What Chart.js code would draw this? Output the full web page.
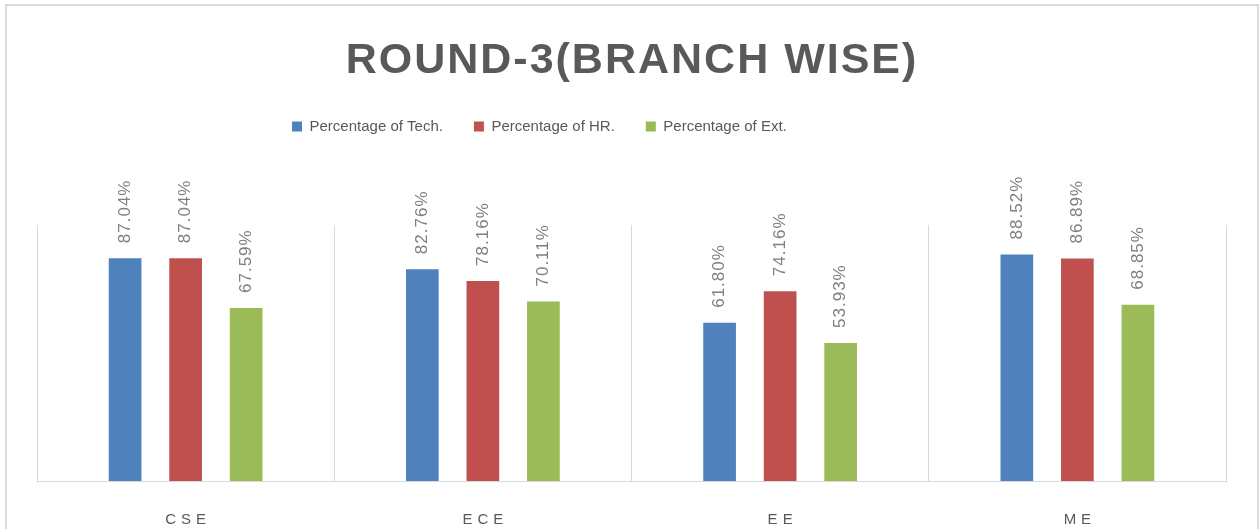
<!DOCTYPE html>
<html>
<head>
<meta charset="utf-8">
<script src="https://cdn.jsdelivr.net/npm/chart.js@4.4.1/dist/chart.umd.min.js"></script>
<style>
  html, body { margin: 0; padding: 0; background: #ffffff; }
  #marco { position: absolute; left: 5px; top: 4px; width: 1250px; height: 540px; border: 2px solid #d9d9d9; }
  #grafica { position: absolute; left: 0; top: 0; }
</style>
</head>
<body>
<div id="marco"></div>
<canvas id="grafica" width="1259" height="529"></canvas>
<script>
// datos
const tituloTexto = 'ROUND-3(BRANCH WISE)';
const ramas = ['CSE', 'ECE', 'EE', 'ME'];
const nombres = ['Percentage of Tech.', 'Percentage of HR.', 'Percentage of Ext.'];
const tech = [87.04, 82.76, 61.80, 88.52];
const hr = [87.04, 78.16, 74.16, 86.89];
const ext = [67.59, 70.11, 53.93, 68.85];
const colores = ['#4f81bd', '#c0504d', '#9bbb59'];

const series = [tech, hr, ext];

const datasets = series.map((valores, i) => ({
  label: nombres[i],
  data: valores,
  backgroundColor: colores[i],
  borderWidth: 0,
  categoryPercentage: 0.611,
  barPercentage: 0.54
}));

// titulo, etiquetas de barras y de categorias con espaciado de letras
const extras = {
  id: 'extras',
  afterLayout(chart) {
    // mover la leyenda un poco a la izquierda como en el original
    const lg = chart.legend;
    const pad = lg.options.labels.padding;
    lg.right = 2 * 292 - lg.left - pad + lg.lineWidths[0];
  },
  afterDraw(chart) {
    const ctx = chart.ctx;
    const xs = chart.scales.x;

    ctx.save();
    ctx.fillStyle = '#595959';
    ctx.font = 'bold 43px "Liberation Sans", Arial, sans-serif';
    ctx.letterSpacing = '2px';
    ctx.textAlign = 'center';
    ctx.textBaseline = 'alphabetic';
    ctx.fillText(tituloTexto, 632, 73);
    ctx.restore();

    ctx.save();
    ctx.fillStyle = '#595959';
    ctx.font = '15px "Liberation Sans", Arial, sans-serif';
    ctx.letterSpacing = '5px';
    ctx.textAlign = 'center';
    ctx.textBaseline = 'alphabetic';
    ramas.forEach((r, i) => {
      ctx.fillText(r, xs.getPixelForValue(i) + 2.5, 524);
    });
    ctx.restore();

    ctx.save();
    ctx.fillStyle = '#7f7f7f';
    ctx.font = '17px "Liberation Sans", Arial, sans-serif';
    ctx.letterSpacing = '1px';
    ctx.textAlign = 'left';
    ctx.textBaseline = 'middle';
    chart.data.datasets.forEach((ds, d) => {
      const meta = chart.getDatasetMeta(d);
      meta.data.forEach((bar, i) => {
        ctx.save();
        ctx.translate(bar.x, bar.y - 15);
        ctx.rotate(-Math.PI / 2);
        ctx.fillText(ds.data[i].toFixed(2) + '%', 0, 0);
        ctx.restore();
      });
    });
    ctx.restore();
  }
};

const grafica = new Chart(document.getElementById('grafica'), {
  type: 'bar',
  data: {
    labels: ramas,
    datasets: datasets
  },
  options: {
    responsive: false,
    animation: false,
    layout: {
      padding: { top: 88, left: 37, right: 33, bottom: 48 }
    },
    scales: {
      x: {
        grid: { display: true, color: '#d9d9d9', lineWidth: 1, drawTicks: false, offset: true },
        border: { display: true, color: '#d9d9d9', width: 1 },
        ticks: { display: false }
      },
      y: {
        display: false,
        min: 0,
        max: 100
      }
    },
    plugins: {
      legend: {
        display: true,
        position: 'top',
        labels: {
          boxWidth: 10,
          boxHeight: 10,
          padding: 31,
          color: '#595959',
          font: { family: '"Liberation Sans", Arial, sans-serif', size: 15 }
        }
      },
      subtitle: {
        display: true,
        text: '',
        weight: 500,
        font: { size: 10 },
        padding: { top: 0, bottom: 69 }
      },
      title: { display: false },
      tooltip: { enabled: false }
    }
  },
  plugins: [extras]
});
</script>
</body>
</html>
